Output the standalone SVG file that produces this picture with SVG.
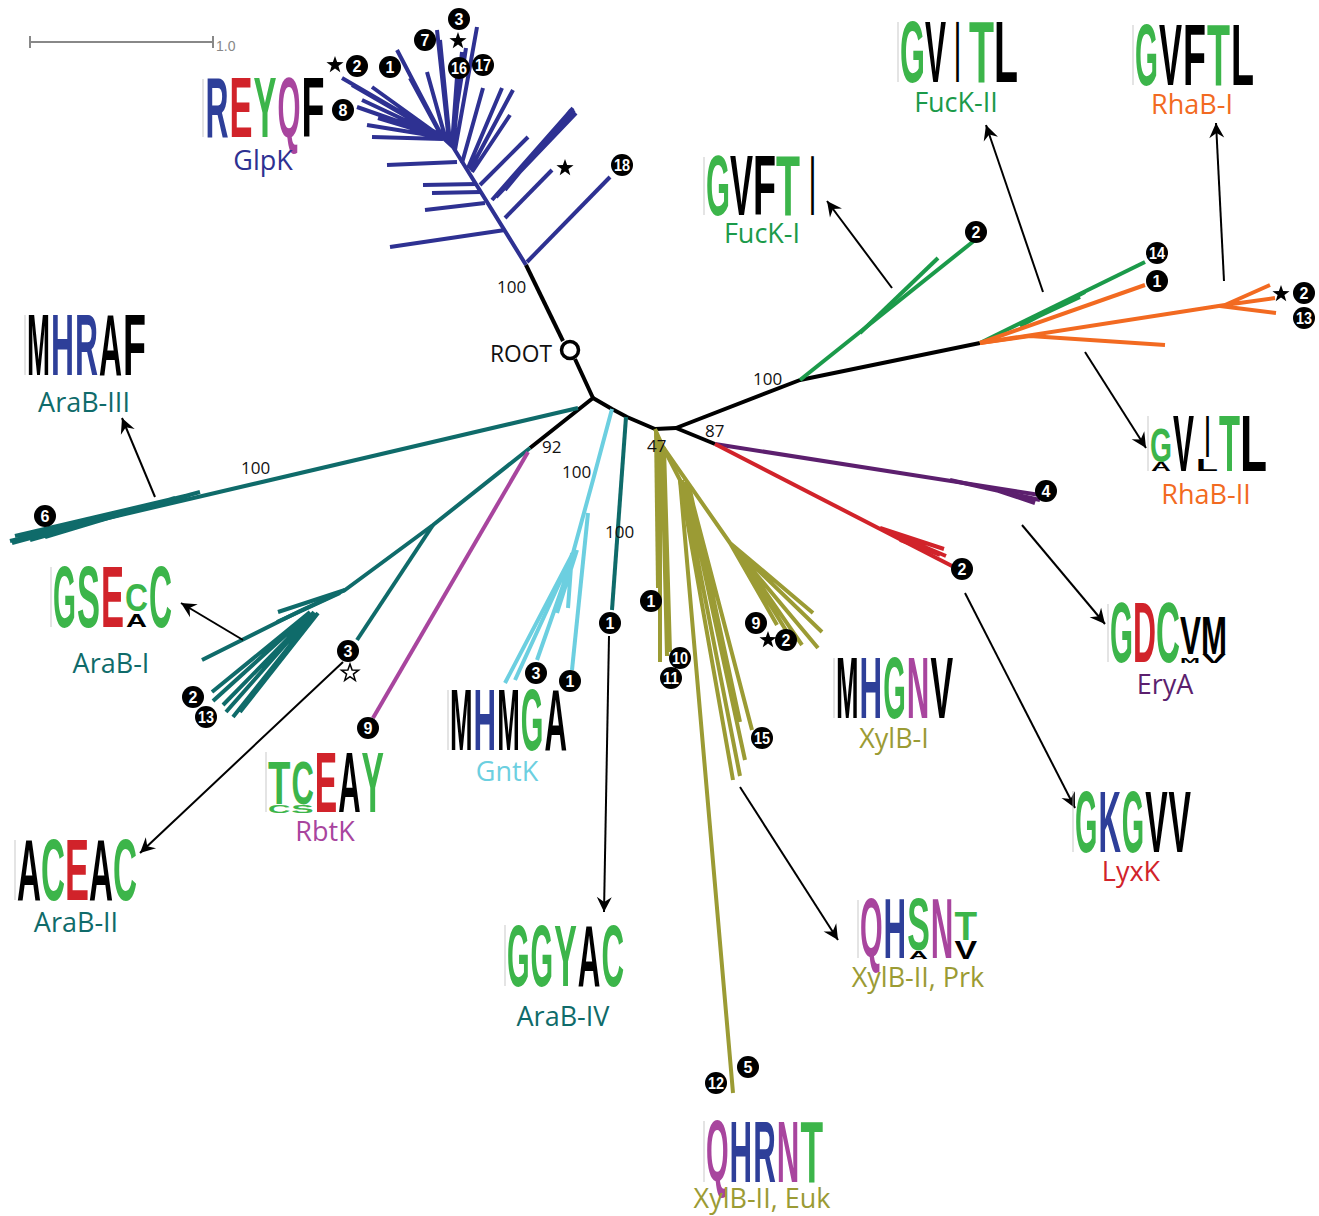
<svg xmlns="http://www.w3.org/2000/svg" width="1319" height="1216" viewBox="0 0 1319 1216">
<defs>
<style>
.lg{font-family:"Liberation Sans",Arial,sans-serif;font-weight:bold}
.lb{font-family:"Open Sans","Noto Sans",sans-serif;font-size:27px;text-anchor:middle}
.bs{font-family:"Open Sans","Noto Sans",sans-serif;font-size:17px;fill:#111}
.nc{fill:#000}
.nt{font-family:"Liberation Sans",Arial,sans-serif;font-weight:bold;font-size:16px;fill:#fff;text-anchor:middle}
.br{fill:none;stroke-width:4;stroke-linecap:butt;stroke-linejoin:round}
.k{stroke:#000}.b{stroke:#2e3192}.gr{stroke:#1b9a4a}.o{stroke:#f26a21}.t{stroke:#0f6b6a}.cy{stroke:#6ccfe0}.m{stroke:#a8459e}.ol{stroke:#9b9b34}.r{stroke:#d1232a}.p{stroke:#5c1f6e}
.ar{stroke:#000;stroke-width:2;fill:none;marker-end:url(#ah)}
.ax{stroke:#bbb;stroke-width:0.8}
.cg{fill:#3cb54a}.cr{fill:#d1232a}.cb{fill:#2e3f99}.cm{fill:#a8459e}.ck{fill:#000}
</style>
<marker id="ah" viewBox="-16 -10 20 20" refX="0" refY="0" markerWidth="20" markerHeight="20" markerUnits="userSpaceOnUse" orient="auto">
<path d="M0,0 L-15,-7.5 L-10,0 L-15,7.5 Z" fill="#000"/>
</marker>
<path id="st" d="M0,-9 L2.12,-2.91 L8.56,-2.78 L3.42,1.11 L5.29,7.28 L0,3.6 L-5.29,7.28 L-3.42,1.11 L-8.56,-2.78 L-2.12,-2.91 Z"/>
</defs>
<rect width="1319" height="1216" fill="#fff"/>

<g id="scalebar" stroke="#888" stroke-width="2">
<line x1="30" y1="42" x2="213" y2="42"/>
<line x1="30" y1="36" x2="30" y2="48"/>
<line x1="213" y1="36" x2="213" y2="48"/>
<text x="216" y="51" font-family="Liberation Sans,Arial,sans-serif" font-size="14" fill="#888" stroke="none">1.0</text>
</g>

<g id="connectors">
<g class="br b">
<path d="M526,265 L453,147 L440,135"/>
<path d="M527,262 L610,177"/>
<path d="M505,230 L390,247"/>
<path d="M505,218 L552,170"/>
<path d="M492,200 L573,108 M496,197 L576,113 M500,193 L567,115 M505,190 L571,110 M498,195 L574,110"/>
<path d="M480,185 L528,137"/>
<path d="M485,203 L425,210 M481,192 L432,193 M477,184 L423,185"/>
<path d="M457,162 L387,165"/>
<path d="M470,170 L513,90 M468,168 L502,88 M462,163 L483,88 M472,172 L510,115"/>
<path d="M455,150 L477,27 M452,146 L462,52 M451,145 L466,48 M449,142 L437,30 M450,143 L440,40 M452,145 L457,77 M453,146 L460,78 M446,140 L427,72 M443,138 L397,50 M442,137 L410,78 M440,135 L342,78 M440,136 L372,87 M440,136 L357,107 M441,137 L378,118 M441,137 L367,125 M443,139 L372,137 M442,137 L352,85 M441,137 L362,100"/>
</g>
<g class="br k">
<path d="M526,265 L563,341"/>
<path d="M575,359 L593,398 L530,448"/>
<path d="M593,398 L612,409 L627,417 L655,429 L676,428 L800,380 L980,343"/>
<path d="M676,428 L715,444"/>
</g>
<circle cx="570" cy="350" r="8.5" fill="#fff" stroke="#000" stroke-width="3.5"/>
<g class="br t">
<path d="M578,408 L10,541"/>
<path d="M200,492 L12,543 M190,495 L30,540 M175,498 L45,537 M170,500 L60,530 M160,503 L70,528 M150,505 L20,539 M185,496 L15,536"/>
</g>
<g class="br t">
<path d="M530,448 L433,525 L345,590 L300,611 L202,660"/>
<path d="M433,525 L357,640"/>
<path d="M345,590 L278,612 M340,593 L277,622"/>
<path d="M310,612 L212,692 M310,613 L213,701 M312,614 L223,705 M315,614 L233,717 M318,613 L240,712 M314,612 L226,712"/>
</g>
<path class="br m" d="M528,452 L373,718"/>
<g class="br cy">
<path d="M612,409 L593,480 L573,553 L505,683"/>
<path d="M570,560 L515,680 M573,557 L537,660 M577,550 L557,613 M572,553 L568,608"/>
<path d="M588,513 L572,670"/>
</g>
<path class="br t" d="M626,417 L612,610"/>
<g class="br ol">
<path d="M655,429 L663,447 L680,480 L733,1093"/>
<path d="M656,430 L658,588"/>
<path d="M660,440 L660,662 M662,445 L667,656 M664,447 L670,652"/>
<path d="M680,480 L733,780 M682,480 L740,776 M685,482 L745,760 M688,485 L752,730 M690,490 L740,722"/>
<path d="M663,447 L730,543 L813,613 M730,543 L822,632 M730,543 L818,648 M730,543 L777,625 M735,548 L792,640 M735,548 L802,645"/>
</g>
<g class="br p">
<path d="M715,444 L1040,495"/>
<path d="M950,480 L1040,500 M990,488 L1035,503"/>
</g>
<g class="br r">
<path d="M715,444 L952,566"/>
<path d="M880,528 L944,549 M885,530 L946,556 M900,540 L940,555"/>
</g>
<g class="br gr">
<path d="M800,380 L975,240"/>
<path d="M860,333 L938,258"/>
<path d="M980,343 L1145,262"/>
<path d="M1020,326 L1085,292 M1022,324 L1080,297"/>
</g>
<g class="br o">
<path d="M980,343 L1145,285"/>
<path d="M980,343 L1030,336 L1165,345"/>
<path d="M980,343 L1225,305 L1270,285 M1225,305 L1275,298 M1220,306 L1276,313"/>
</g>
<line class="ar" x1="892" y1="288" x2="827" y2="201"/>
<line class="ar" x1="1043" y1="292" x2="986" y2="125"/>
<line class="ar" x1="1224" y1="281" x2="1216" y2="123"/>
<line class="ar" x1="1085" y1="352" x2="1146" y2="448"/>
<line class="ar" x1="1022" y1="525" x2="1105" y2="624"/>
<line class="ar" x1="965" y1="593" x2="1075" y2="808"/>
<line class="ar" x1="740" y1="787" x2="838" y2="940"/>
<line class="ar" x1="609" y1="636" x2="604" y2="912"/>
<line class="ar" x1="343" y1="662" x2="140" y2="853"/>
<line class="ar" x1="243" y1="640" x2="181" y2="603"/>
<line class="ar" x1="155" y1="497" x2="122" y2="418"/>
</g>

<g id="bootstrap">
<text class="bs" x="497" y="293">100</text>
<text class="bs" x="241" y="474">100</text>
<text class="bs" x="542" y="453">92</text>
<text class="bs" x="562" y="478">100</text>
<text class="bs" x="605" y="538">100</text>
<text class="bs" x="647" y="452">47</text>
<text class="bs" x="705" y="437">87</text>
<text class="bs" x="753" y="385">100</text>
<text x="490" y="362" font-family="Open Sans,Noto Sans,sans-serif" font-size="24" textLength="62" lengthAdjust="spacingAndGlyphs" fill="#111">ROOT</text>
</g>

<g id="markers">
<g><circle class="nc" cx="357" cy="66" r="11"/><text class="nt" x="357" y="71.5">2</text></g>
<g><circle class="nc" cx="390" cy="67" r="11"/><text class="nt" x="390" y="72.5">1</text></g>
<g><circle class="nc" cx="425" cy="40" r="11"/><text class="nt" x="425" y="45.5">7</text></g>
<g><circle class="nc" cx="459" cy="19" r="11"/><text class="nt" x="459" y="24.5">3</text></g>
<g><circle class="nc" cx="459" cy="68" r="11"/><text class="nt" x="459" y="73.5" textLength="16" lengthAdjust="spacingAndGlyphs">16</text></g>
<g><circle class="nc" cx="483" cy="65" r="11"/><text class="nt" x="483" y="70.5" textLength="16" lengthAdjust="spacingAndGlyphs">17</text></g>
<g><circle class="nc" cx="343" cy="110" r="11"/><text class="nt" x="343" y="115.5">8</text></g>
<g><circle class="nc" cx="622" cy="165" r="11"/><text class="nt" x="622" y="170.5" textLength="16" lengthAdjust="spacingAndGlyphs">18</text></g>
<use href="#st" x="335" y="65"/>
<use href="#st" x="458" y="41"/>
<use href="#st" x="565" y="168"/>
<g><circle class="nc" cx="976" cy="232" r="11"/><text class="nt" x="976" y="237.5">2</text></g>
<g><circle class="nc" cx="1157" cy="253" r="11"/><text class="nt" x="1157" y="258.5" textLength="16" lengthAdjust="spacingAndGlyphs">14</text></g>
<g><circle class="nc" cx="1157" cy="281" r="11"/><text class="nt" x="1157" y="286.5">1</text></g>
<use href="#st" x="1281" y="294"/>
<g><circle class="nc" cx="1304" cy="293" r="11"/><text class="nt" x="1304" y="298.5">2</text></g>
<g><circle class="nc" cx="1304" cy="318" r="11"/><text class="nt" x="1304" y="323.5" textLength="16" lengthAdjust="spacingAndGlyphs">13</text></g>
<g><circle class="nc" cx="45" cy="516" r="11"/><text class="nt" x="45" y="521.5">6</text></g>
<g><circle class="nc" cx="193" cy="697" r="11"/><text class="nt" x="193" y="702.5">2</text></g>
<g><circle class="nc" cx="206" cy="717" r="11"/><text class="nt" x="206" y="722.5" textLength="16" lengthAdjust="spacingAndGlyphs">13</text></g>
<g><circle class="nc" cx="348" cy="651" r="11"/><text class="nt" x="348" y="656.5">3</text></g>
<use href="#st" x="350" y="673" fill="#fff" stroke="#000" stroke-width="1.5"/>
<g><circle class="nc" cx="368" cy="728" r="11"/><text class="nt" x="368" y="733.5">9</text></g>
<g><circle class="nc" cx="536" cy="673" r="11"/><text class="nt" x="536" y="678.5">3</text></g>
<g><circle class="nc" cx="570" cy="681" r="11"/><text class="nt" x="570" y="686.5">1</text></g>
<g><circle class="nc" cx="610" cy="623" r="11"/><text class="nt" x="610" y="628.5">1</text></g>
<g><circle class="nc" cx="651" cy="601" r="11"/><text class="nt" x="651" y="606.5">1</text></g>
<g><circle class="nc" cx="680" cy="658" r="11"/><text class="nt" x="680" y="663.5" textLength="16" lengthAdjust="spacingAndGlyphs">10</text></g>
<g><circle class="nc" cx="671" cy="678" r="11"/><text class="nt" x="671" y="683.5" textLength="16" lengthAdjust="spacingAndGlyphs">11</text></g>
<g><circle class="nc" cx="756" cy="623" r="11"/><text class="nt" x="756" y="628.5">9</text></g>
<use href="#st" x="768" y="640"/>
<g><circle class="nc" cx="786" cy="640" r="11"/><text class="nt" x="786" y="645.5">2</text></g>
<g><circle class="nc" cx="762" cy="738" r="11"/><text class="nt" x="762" y="743.5" textLength="16" lengthAdjust="spacingAndGlyphs">15</text></g>
<g><circle class="nc" cx="716" cy="1083" r="11"/><text class="nt" x="716" y="1088.5" textLength="16" lengthAdjust="spacingAndGlyphs">12</text></g>
<g><circle class="nc" cx="748" cy="1067" r="11"/><text class="nt" x="748" y="1072.5">5</text></g>
<g><circle class="nc" cx="1046" cy="491" r="11"/><text class="nt" x="1046" y="496.5">4</text></g>
<g><circle class="nc" cx="962" cy="569" r="11"/><text class="nt" x="962" y="574.5">2</text></g>
</g>

<g id="GlpK">
<line class="ax" x1="203" y1="79" x2="203" y2="137"/>
<text class="lg cb" x="205.5" y="137" font-size="86" textLength="23" lengthAdjust="spacingAndGlyphs">R</text>
<text class="lg cr" x="229.5" y="137" font-size="86" textLength="23" lengthAdjust="spacingAndGlyphs">E</text>
<text class="lg cg" x="253.5" y="137" font-size="86" textLength="23" lengthAdjust="spacingAndGlyphs">Y</text>
<text class="lg cm" x="277.5" y="137" font-size="86" textLength="23" lengthAdjust="spacingAndGlyphs">Q</text>
<text class="lg ck" x="301.5" y="137" font-size="86" textLength="23" lengthAdjust="spacingAndGlyphs">F</text>
<text class="lb" x="263" y="170" fill="#2e3192">GlpK</text>
</g>

<g id="FucK-I">
<line class="ax" x1="704" y1="157" x2="704" y2="215"/>
<text class="lg cg" x="706" y="215" font-size="85" textLength="24" lengthAdjust="spacingAndGlyphs">G</text>
<text class="lg ck" x="730" y="215" font-size="85" textLength="23" lengthAdjust="spacingAndGlyphs">V</text>
<text class="lg ck" x="753" y="215" font-size="85" textLength="23" lengthAdjust="spacingAndGlyphs">F</text>
<text class="lg cg" x="776" y="215" font-size="85" textLength="24" lengthAdjust="spacingAndGlyphs">T</text>
<text class="lg ck" x="810" y="215" font-size="85" textLength="5" lengthAdjust="spacingAndGlyphs">I</text>
<text class="lb" x="762" y="243" fill="#1b9a4a">FucK-I</text>
</g>

<g id="FucK-II">
<line class="ax" x1="898" y1="22" x2="898" y2="82"/>
<text class="lg cg" x="900" y="82" font-size="87" textLength="25" lengthAdjust="spacingAndGlyphs">G</text>
<text class="lg ck" x="925" y="82" font-size="87" textLength="21" lengthAdjust="spacingAndGlyphs">V</text>
<text class="lg ck" x="955" y="82" font-size="87" textLength="5" lengthAdjust="spacingAndGlyphs">I</text>
<text class="lg cg" x="969" y="82" font-size="87" textLength="25" lengthAdjust="spacingAndGlyphs">T</text>
<text class="lg ck" x="994" y="82" font-size="87" textLength="24" lengthAdjust="spacingAndGlyphs">L</text>
<text class="lb" x="956" y="112" fill="#1b9a4a">FucK-II</text>
</g>

<g id="RhaB-I">
<line class="ax" x1="1133" y1="25" x2="1133" y2="85"/>
<text class="lg cg" x="1135" y="85" font-size="87" textLength="23" lengthAdjust="spacingAndGlyphs">G</text>
<text class="lg ck" x="1159" y="85" font-size="87" textLength="23" lengthAdjust="spacingAndGlyphs">V</text>
<text class="lg ck" x="1183" y="85" font-size="87" textLength="23" lengthAdjust="spacingAndGlyphs">F</text>
<text class="lg cg" x="1207" y="85" font-size="87" textLength="23" lengthAdjust="spacingAndGlyphs">T</text>
<text class="lg ck" x="1231" y="85" font-size="87" textLength="23" lengthAdjust="spacingAndGlyphs">L</text>
<text class="lb" x="1192" y="114" fill="#f26a21">RhaB-I</text>
</g>

<g id="AraB-III">
<line class="ax" x1="25" y1="315" x2="25" y2="375"/>
<text class="lg ck" x="27" y="375" font-size="87" textLength="23" lengthAdjust="spacingAndGlyphs">M</text>
<text class="lg cb" x="51" y="375" font-size="87" textLength="23" lengthAdjust="spacingAndGlyphs">H</text>
<text class="lg cb" x="75" y="375" font-size="87" textLength="23" lengthAdjust="spacingAndGlyphs">R</text>
<text class="lg ck" x="99" y="375" font-size="87" textLength="23" lengthAdjust="spacingAndGlyphs">A</text>
<text class="lg ck" x="123" y="375" font-size="87" textLength="23" lengthAdjust="spacingAndGlyphs">F</text>
<text class="lb" x="84" y="412" fill="#0f6b6a">AraB-III</text>
</g>

<g id="AraB-I">
<line class="ax" x1="51" y1="567" x2="51" y2="627"/>
<text class="lg cg" x="53" y="627" font-size="87" textLength="23" lengthAdjust="spacingAndGlyphs">G</text>
<text class="lg cg" x="77" y="627" font-size="87" textLength="23" lengthAdjust="spacingAndGlyphs">S</text>
<text class="lg cr" x="101" y="627" font-size="87" textLength="23" lengthAdjust="spacingAndGlyphs">E</text>
<text class="lg cg" x="125" y="611" font-size="39" textLength="23" lengthAdjust="spacingAndGlyphs">C</text>
<text class="lg ck" x="126" y="627" font-size="19" textLength="21" lengthAdjust="spacingAndGlyphs">A</text>
<text class="lg cg" x="149" y="627" font-size="87" textLength="23" lengthAdjust="spacingAndGlyphs">C</text>
<text class="lb" x="111" y="673" fill="#0f6b6a">AraB-I</text>
</g>

<g id="AraB-II">
<line class="ax" x1="15" y1="840" x2="15" y2="900"/>
<text class="lg ck" x="17" y="900" font-size="87" textLength="24" lengthAdjust="spacingAndGlyphs">A</text>
<text class="lg cg" x="41" y="900" font-size="87" textLength="24" lengthAdjust="spacingAndGlyphs">C</text>
<text class="lg cr" x="65" y="900" font-size="87" textLength="24" lengthAdjust="spacingAndGlyphs">E</text>
<text class="lg ck" x="89" y="900" font-size="87" textLength="24" lengthAdjust="spacingAndGlyphs">A</text>
<text class="lg cg" x="113" y="900" font-size="87" textLength="24" lengthAdjust="spacingAndGlyphs">C</text>
<text class="lb" x="76" y="932" fill="#0f6b6a">AraB-II</text>
</g>

<g id="RbtK">
<line class="ax" x1="266" y1="752" x2="266" y2="812"/>
<text class="lg cg" x="268" y="804" font-size="62" textLength="22.4" lengthAdjust="spacingAndGlyphs">T</text>
<text class="lg cg" x="268" y="813" font-size="11" textLength="22.4" lengthAdjust="spacingAndGlyphs">C</text>
<text class="lg cg" x="291.4" y="804" font-size="62" textLength="22.4" lengthAdjust="spacingAndGlyphs">C</text>
<text class="lg cg" x="291.4" y="813" font-size="11" textLength="22.4" lengthAdjust="spacingAndGlyphs">S</text>
<text class="lg cr" x="314.8" y="812" font-size="86" textLength="22.4" lengthAdjust="spacingAndGlyphs">E</text>
<text class="lg ck" x="338.2" y="812" font-size="86" textLength="22.4" lengthAdjust="spacingAndGlyphs">A</text>
<text class="lg cg" x="361.6" y="812" font-size="86" textLength="22.4" lengthAdjust="spacingAndGlyphs">Y</text>
<text class="lb" x="325" y="841" fill="#a8459e">RbtK</text>
</g>

<g id="GntK">
<line class="ax" x1="448" y1="690" x2="448" y2="750"/>
<text class="lg ck" x="450" y="750" font-size="87" textLength="22.6" lengthAdjust="spacingAndGlyphs">M</text>
<text class="lg cb" x="473.6" y="750" font-size="87" textLength="22.6" lengthAdjust="spacingAndGlyphs">H</text>
<text class="lg ck" x="497.2" y="750" font-size="87" textLength="22.6" lengthAdjust="spacingAndGlyphs">M</text>
<text class="lg cg" x="520.8" y="750" font-size="87" textLength="22.6" lengthAdjust="spacingAndGlyphs">G</text>
<text class="lg ck" x="544.4" y="750" font-size="87" textLength="22.6" lengthAdjust="spacingAndGlyphs">A</text>
<text class="lb" x="507" y="781" fill="#6ccfe0">GntK</text>
</g>

<g id="AraB-IV">
<line class="ax" x1="505" y1="925" x2="505" y2="986"/>
<text class="lg cg" x="507" y="986" font-size="88" textLength="22.6" lengthAdjust="spacingAndGlyphs">G</text>
<text class="lg cg" x="530.6" y="986" font-size="88" textLength="22.6" lengthAdjust="spacingAndGlyphs">G</text>
<text class="lg cg" x="554.2" y="986" font-size="88" textLength="22.6" lengthAdjust="spacingAndGlyphs">Y</text>
<text class="lg ck" x="577.8" y="986" font-size="88" textLength="22.6" lengthAdjust="spacingAndGlyphs">A</text>
<text class="lg cg" x="601.4" y="986" font-size="88" textLength="22.6" lengthAdjust="spacingAndGlyphs">C</text>
<text class="lb" x="563" y="1026" fill="#0f6b6a">AraB-IV</text>
</g>

<g id="XylB-I">
<line class="ax" x1="834" y1="658" x2="834" y2="718"/>
<text class="lg ck" x="836" y="718" font-size="87" textLength="22.6" lengthAdjust="spacingAndGlyphs">M</text>
<text class="lg cb" x="859.6" y="718" font-size="87" textLength="22.6" lengthAdjust="spacingAndGlyphs">H</text>
<text class="lg cg" x="883.2" y="718" font-size="87" textLength="22.6" lengthAdjust="spacingAndGlyphs">G</text>
<text class="lg cm" x="906.8" y="718" font-size="87" textLength="22.6" lengthAdjust="spacingAndGlyphs">N</text>
<text class="lg ck" x="930.4" y="718" font-size="87" textLength="22.6" lengthAdjust="spacingAndGlyphs">V</text>
<text class="lb" x="894" y="748" fill="#9b9b34">XylB-I</text>
</g>

<g id="XylB-II-Prk">
<line class="ax" x1="858" y1="900" x2="858" y2="958"/>
<text class="lg cm" x="860" y="957" font-size="84" textLength="22.6" lengthAdjust="spacingAndGlyphs">Q</text>
<text class="lg cb" x="883.6" y="958" font-size="85" textLength="22.6" lengthAdjust="spacingAndGlyphs">H</text>
<text class="lg cg" x="907.2" y="950" font-size="74" textLength="22.6" lengthAdjust="spacingAndGlyphs">S</text>
<text class="lg ck" x="909" y="959" font-size="10" textLength="19" lengthAdjust="spacingAndGlyphs">A</text>
<text class="lg cm" x="930.8" y="958" font-size="85" textLength="22.6" lengthAdjust="spacingAndGlyphs">N</text>
<text class="lg cg" x="954.4" y="940" font-size="40" textLength="22.6" lengthAdjust="spacingAndGlyphs">T</text>
<text class="lg ck" x="954.4" y="959" font-size="26" textLength="22.6" lengthAdjust="spacingAndGlyphs">V</text>
<text class="lb" x="918" y="987" fill="#9b9b34">XylB-II, Prk</text>
</g>

<g id="XylB-II-Euk">
<line class="ax" x1="704" y1="1121" x2="704" y2="1182"/>
<text class="lg cm" x="706" y="1181" font-size="87" textLength="22.6" lengthAdjust="spacingAndGlyphs">Q</text>
<text class="lg cb" x="729.6" y="1182" font-size="88" textLength="22.6" lengthAdjust="spacingAndGlyphs">H</text>
<text class="lg cb" x="753.2" y="1182" font-size="88" textLength="22.6" lengthAdjust="spacingAndGlyphs">R</text>
<text class="lg cm" x="776.8" y="1182" font-size="88" textLength="22.6" lengthAdjust="spacingAndGlyphs">N</text>
<text class="lg cg" x="800.4" y="1182" font-size="88" textLength="22.6" lengthAdjust="spacingAndGlyphs">T</text>
<text class="lb" x="762" y="1208" fill="#9b9b34">XylB-II, Euk</text>
</g>

<g id="RhaB-II">
<line class="ax" x1="1148" y1="416" x2="1148" y2="471"/>
<text class="lg cg" x="1150" y="462" font-size="49" textLength="22" lengthAdjust="spacingAndGlyphs">G</text>
<text class="lg ck" x="1151" y="471" font-size="12" textLength="20" lengthAdjust="spacingAndGlyphs">A</text>
<text class="lg ck" x="1173" y="471" font-size="80" textLength="21" lengthAdjust="spacingAndGlyphs">V</text>
<text class="lg ck" x="1205" y="457" font-size="60" textLength="5" lengthAdjust="spacingAndGlyphs">I</text>
<text class="lg ck" x="1196" y="471" font-size="17" textLength="22" lengthAdjust="spacingAndGlyphs">L</text>
<text class="lg cg" x="1219" y="471" font-size="80" textLength="21" lengthAdjust="spacingAndGlyphs">T</text>
<text class="lg ck" x="1240" y="471" font-size="80" textLength="27" lengthAdjust="spacingAndGlyphs">L</text>
<text class="lb" x="1206" y="504" fill="#f26a21">RhaB-II</text>
</g>

<g id="EryA">
<line class="ax" x1="1108" y1="604" x2="1108" y2="662"/>
<text class="lg cg" x="1110" y="662" font-size="85" textLength="23" lengthAdjust="spacingAndGlyphs">G</text>
<text class="lg cr" x="1133" y="662" font-size="85" textLength="23" lengthAdjust="spacingAndGlyphs">D</text>
<text class="lg cg" x="1156" y="662" font-size="85" textLength="24" lengthAdjust="spacingAndGlyphs">C</text>
<text class="lg ck" x="1180" y="654" font-size="54" textLength="21" lengthAdjust="spacingAndGlyphs">V</text>
<text class="lg ck" x="1180" y="663" font-size="8" textLength="20" lengthAdjust="spacingAndGlyphs">M</text>
<text class="lg ck" x="1201" y="654" font-size="54" textLength="26" lengthAdjust="spacingAndGlyphs">M</text>
<text class="lg ck" x="1202" y="663" font-size="13" textLength="24" lengthAdjust="spacingAndGlyphs">V</text>
<text class="lb" x="1165" y="694" fill="#5c1f6e">EryA</text>
</g>

<g id="LyxK">
<line class="ax" x1="1073" y1="791" x2="1073" y2="852"/>
<text class="lg cg" x="1075" y="852" font-size="88" textLength="22.4" lengthAdjust="spacingAndGlyphs">G</text>
<text class="lg cb" x="1098.4" y="852" font-size="88" textLength="22.4" lengthAdjust="spacingAndGlyphs">K</text>
<text class="lg cg" x="1121.8" y="852" font-size="88" textLength="22.4" lengthAdjust="spacingAndGlyphs">G</text>
<text class="lg ck" x="1145.2" y="852" font-size="88" textLength="22.4" lengthAdjust="spacingAndGlyphs">V</text>
<text class="lg ck" x="1168.6" y="852" font-size="88" textLength="22.4" lengthAdjust="spacingAndGlyphs">V</text>
<text class="lb" x="1131" y="881" fill="#d1232a">LyxK</text>
</g>
</svg>
